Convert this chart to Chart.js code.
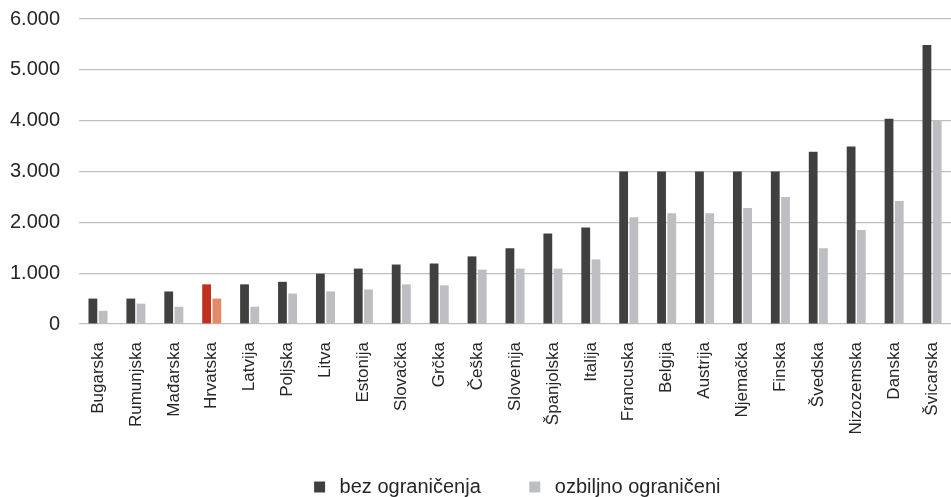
<!DOCTYPE html>
<html>
<head>
<meta charset="utf-8">
<script src="https://cdn.jsdelivr.net/npm/chart.js@4/dist/chart.umd.min.js"></script>
<style>
  html, body { margin: 0; padding: 0; background: #fff; }
  #wrap { width: 951px; height: 497px; }
</style>
</head>
<body>
<div id="wrap"><canvas id="chart" width="951" height="497"></canvas></div>
<script>
const countries = ['Bugarska', 'Rumunjska', 'Mađarska', 'Hrvatska', 'Latvija', 'Poljska', 'Litva', 'Estonija',
  'Slovačka', 'Grčka', 'Češka', 'Slovenija', 'Španjolska', 'Italija', 'Francuska', 'Belgija', 'Austrija',
  'Njemačka', 'Finska', 'Švedska', 'Nizozemska', 'Danska', 'Švicarska'];
const bezOgranicenja = [500, 500, 640, 780, 780, 830, 990, 1090, 1170, 1190, 1330, 1490, 1780, 1900,
  3000, 3000, 3000, 3000, 3000, 3390, 3490, 4040, 5490];
const ozbiljnoOgraniceni = [260, 400, 340, 500, 340, 600, 640, 680, 780, 760, 1070, 1090, 1090, 1270,
  2100, 2180, 2180, 2280, 2500, 1490, 1850, 2420, 4000];
const yTicks = [0, 1000, 2000, 3000, 4000, 5000, 6000];
const highlight = 'Hrvatska';

const darkColor = '#404040';
const lightColor = '#bdbec2';
const darkHighlight = '#c0301e';
const lightHighlight = '#e08c6c';

function colorsFor(base, special) {
  return countries.map(c => c === highlight ? special : base);
}

function formatThousands(v) {
  return String(v).replace(/\B(?=(\d{3})+(?!\d))/g, '.');
}

const fontFamily = '"Liberation Sans", Arial, sans-serif';
const textColor = '#262626';

new Chart(document.getElementById('chart'), {
  type: 'bar',
  data: {
    labels: countries,
    datasets: [
      { label: 'bez ograničenja', data: bezOgranicenja, backgroundColor: colorsFor(darkColor, darkHighlight) },
      { label: 'ozbiljno ograničeni', data: ozbiljnoOgraniceni, backgroundColor: colorsFor(lightColor, lightHighlight) }
    ]
  },
  options: {
    responsive: false,
    animation: false,
    categoryPercentage: 0.54,
    barPercentage: 0.86,
    layout: { padding: { top: 19, left: -9, right: 0, bottom: -10 } },
    plugins: {
      tooltip: { enabled: false },
      legend: {
        position: 'bottom',
        fullSize: false,
        labels: {
          color: textColor,
          font: { family: fontFamily, size: 20 },
          usePointStyle: true,
          pointStyle: 'rect',
          boxWidth: 20,
          boxHeight: 11,
          padding: 44,
          generateLabels: chart => chart.data.datasets.map((ds, i) => ({
            text: ds.label,
            fillStyle: i === 0 ? darkColor : lightColor,
            strokeStyle: 'transparent',
            lineWidth: 0,
            pointStyle: 'rect',
            fontColor: textColor,
            datasetIndex: i
          }))
        }
      }
    },
    scales: {
      x: {
        grid: { display: false },
        border: { display: false },
        ticks: {
          color: textColor,
          font: { family: fontFamily, size: 17 },
          minRotation: 90,
          maxRotation: 90,
          autoSkip: false,
          padding: 10
        },
        afterFit: scale => {
          scale.height = 109;
          scale.paddingLeft = 0;
          scale.paddingRight = 0;
        }
      },
      y: {
        min: 0,
        max: 6000,
        afterBuildTicks: scale => { scale.ticks = yTicks.map(v => ({ value: v })); },
        afterFit: scale => {
          scale.paddingTop = 0;
          scale.paddingBottom = 0;
        },
        grid: { color: '#bfbfbf', lineWidth: 1.2, drawTicks: false },
        border: { display: false },
        ticks: {
          color: textColor,
          font: { family: fontFamily, size: 20 },
          padding: 19,
          callback: v => formatThousands(v)
        }
      }
    }
  }
});
</script>
</body>
</html>
